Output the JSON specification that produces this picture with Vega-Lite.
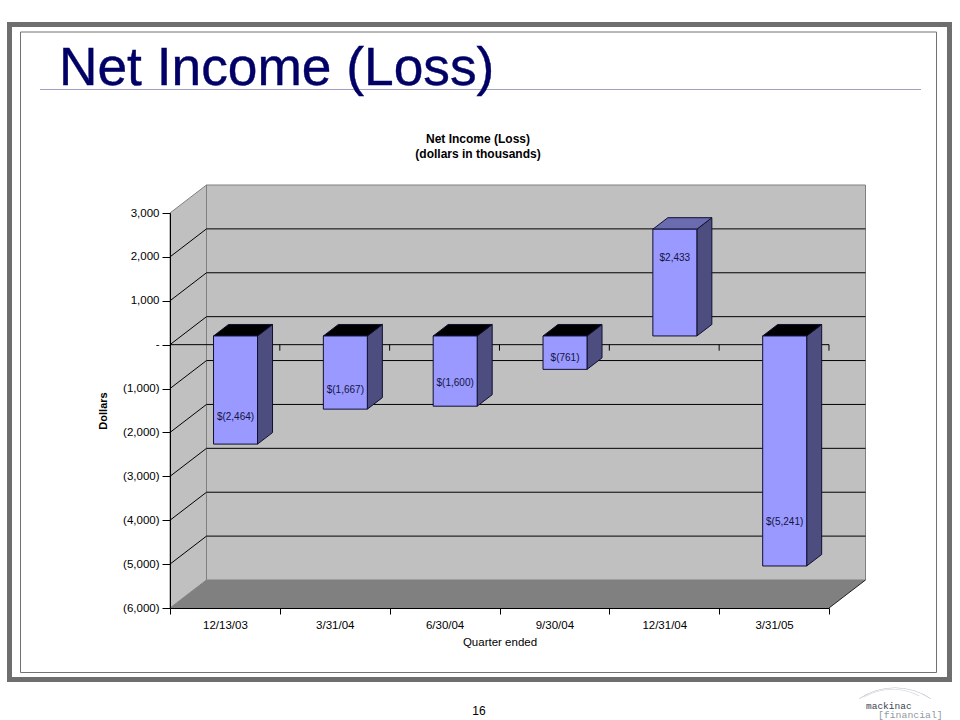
{"$schema":"https://vega.github.io/schema/vega-lite/v6.json","width":659,"height":395,"autosize":{"type":"none"},"padding":{"left":170,"top":213,"right":131,"bottom":112},"background":"white","config":{"view":{"stroke":null},"font":"Liberation Sans"},
"datasets":{"bars":[
{"period":1,"quarter":"12/13/03","income":-2464,"label":"$(2,464)","labelAt":-1823},
{"period":2,"quarter":"3/31/04","income":-1667,"label":"$(1,667)","labelAt":-1208},
{"period":3,"quarter":"6/30/04","income":-1600,"label":"$(1,600)","labelAt":-1048},
{"period":4,"quarter":"9/30/04","income":-761,"label":"$(761)","labelAt":-478},
{"period":5,"quarter":"12/31/04","income":2433,"label":"$2,433","labelAt":1800},
{"period":6,"quarter":"3/31/05","income":-5241,"label":"$(5,241)","labelAt":-4215}],
"grid":[{"tick":2000},{"tick":1000},{"tick":0},{"tick":-1000},{"tick":-2000},{"tick":-3000},{"tick":-4000},{"tick":-5000}],
"depth":[{"d":0},{"d":1}],"one":[{"n":1}]},
"data":{"name":"bars"},
"layer":[
{"data":{"name":"one"},"mark":{"type":"rect","fill":"transparent","stroke":"#6e6e6e","strokeWidth":5},"encoding":{"x":{"datum":-0.9613,"type":"quantitative"},"x2":{"datum":7.597},"y":{"datum":7295,"type":"quantitative"},"y2":{"datum":-7629}}},
{"data":{"name":"one"},"mark":{"type":"rect","fill":"transparent","stroke":"#707070","strokeWidth":1},"encoding":{"x":{"datum":-0.861,"type":"quantitative"},"x2":{"datum":7.479},"y":{"datum":7124,"type":"quantitative"},"y2":{"datum":-7470}}},
{"data":{"name":"one"},"mark":{"type":"rule","stroke":"#a0a0c4","strokeWidth":1},"encoding":{"x":{"datum":-0.6836,"type":"quantitative"},"x2":{"datum":7.3377},"y":{"datum":5814,"type":"quantitative"}}},
{"data":{"name":"one"},"mark":{"type":"text","text":"Net Income (Loss)","fontSize":53.3,"color":"#000066","stroke":"#000066","strokeWidth":0.4,"align":"left","baseline":"alphabetic"},"encoding":{"x":{"datum":-0.511,"type":"quantitative"},"y":{"datum":5917,"type":"quantitative"}}},
{"data":{"name":"one"},"mark":{"type":"text","text":["Net Income (Loss)","(dollars in thousands)"],"lineHeight":15,"fontSize":12,"fontWeight":"bold","color":"black","align":"center","baseline":"middle"},"encoding":{"x":{"datum":3.304,"type":"quantitative"},"y":{"datum":4675,"type":"quantitative"}}},
{"data":{"name":"one"},"mark":{"type":"text","text":"16","fontSize":12,"color":"black","align":"center","baseline":"middle"},"encoding":{"x":{"datum":3.313,"type":"quantitative"},"y":{"datum":-8347,"type":"quantitative"}}},
{"data":{"name":"one"},"mark":{"type":"arc","fill":"#b5bcc4","radius":63.5,"radius2":63,"theta":-0.6,"theta2":0.6},"encoding":{"x":{"datum":7.101,"type":"quantitative"},"y":{"datum":-9258,"type":"quantitative"}}},
{"data":{"name":"one"},"mark":{"type":"arc","fill":"#c8cdd3","radius":56,"radius2":55.5,"theta":-0.55,"theta2":0.5},"encoding":{"x":{"datum":7.08,"type":"quantitative"},"y":{"datum":-9120,"type":"quantitative"}}},
{"data":{"name":"one"},"mark":{"type":"text","text":"mackinac","font":"Liberation Mono","fontSize":9.5,"color":"#3a4450","align":"left","baseline":"middle"},"encoding":{"x":{"datum":6.837,"type":"quantitative"},"y":{"datum":-8222,"type":"quantitative"}}},
{"data":{"name":"one"},"mark":{"type":"text","text":"[financial]","font":"Liberation Mono","fontSize":9.8,"color":"#8f9aa6","align":"left","baseline":"middle"},"encoding":{"x":{"datum":6.946,"type":"quantitative"},"y":{"datum":-8438,"type":"quantitative"}}},
{"data":{"name":"one"},"mark":{"type":"rect","fill":"#c0c0c0","stroke":"#808080","strokeWidth":1,"xOffset":36.5,"x2Offset":36.5,"yOffset":-28,"y2Offset":-28},"encoding":{
"x":{"datum":0.5,"type":"quantitative","scale":{"domain":[0.5,6.5],"nice":false,"zero":false},"axis":{"zindex":1,"title":"Quarter ended","titleFont":"Liberation Sans","titleFontSize":11.5,"titleFontWeight":"normal","titleColor":"black","titlePadding":6,"values":[0.5,1,1.5,2,2.5,3,3.5,4,4.5,5,5.5,6,6.5],"grid":false,"domainColor":"black","tickColor":"black","tickSize":6,"tickOpacity":{"condition":{"test":"datum.value%1==0","value":0},"value":1},"labelExpr":"datum.value%1==0 ? ['12/13/03','3/31/04','6/30/04','9/30/04','12/31/04','3/31/05'][datum.value-1] : ''","labelFont":"Liberation Sans","labelFontSize":11.5,"labelColor":"black","labelAngle":0,"labelOverlap":false,"labelBound":false,"labelFlush":false,"labelPadding":5}},
"x2":{"datum":6.5},
"y":{"datum":3000,"type":"quantitative","scale":{"domain":[-6000,3000],"nice":false,"zero":false},"axis":{"zindex":1,"title":"Dollars","titleFont":"Liberation Sans","titleFontSize":11,"titleFontWeight":"bold","titleColor":"black","titlePadding":14,"values":[-6000,-5000,-4000,-3000,-2000,-1000,0,1000,2000,3000],"grid":false,"domainColor":"black","tickColor":"black","tickSize":8,"labelExpr":"datum.value==0 ? '-' : (datum.value<0 ? '('+format(-datum.value,',')+')' : format(datum.value,','))","labelFont":"Liberation Sans","labelFontSize":11.5,"labelColor":"black","labelPadding":3,"labelOverlap":false,"labelBound":false,"labelFlush":false}},
"y2":{"datum":-6000}}},
{"data":{"name":"depth"},"transform":[{"calculate":"0.5+0.3323*datum.d","as":"wx"},{"calculate":"3000+638*datum.d","as":"wt"},{"calculate":"-6000+638*datum.d","as":"wb"}],"mark":{"type":"area","fill":"#c0c0c0","stroke":"#808080","strokeWidth":1},"encoding":{"x":{"field":"wx","type":"quantitative"},"y":{"field":"wt","type":"quantitative"},"y2":{"field":"wb"}}},
{"data":{"name":"depth"},"transform":[{"calculate":"0.5+0.3323*datum.d","as":"fl"},{"calculate":"6.5+0.3323*datum.d","as":"fr"},{"calculate":"-6000+638*datum.d","as":"fy"}],"mark":{"type":"area","orient":"horizontal","fill":"#808080"},"encoding":{"x":{"field":"fl","type":"quantitative"},"x2":{"field":"fr"},"y":{"field":"fy","type":"quantitative"}}},
{"data":{"name":"one"},"mark":{"type":"rule","stroke":"#202020","strokeWidth":1,"x2Offset":36.5,"y2Offset":-28},"encoding":{"x":{"datum":6.5,"type":"quantitative"},"x2":{"datum":6.5},"y":{"datum":-6000,"type":"quantitative"},"y2":{"datum":-6000}}},
{"data":{"name":"grid"},"mark":{"type":"rule","stroke":"black","strokeWidth":1,"xOffset":36.5,"x2Offset":36.5,"yOffset":-28,"y2Offset":-28},"encoding":{"x":{"datum":0.5,"type":"quantitative"},"x2":{"datum":6.5},"y":{"field":"tick","type":"quantitative"},"y2":{"field":"tick"}}},
{"data":{"name":"grid"},"mark":{"type":"rule","stroke":"black","strokeWidth":1,"x2Offset":36.5,"y2Offset":-28},"encoding":{"x":{"datum":0.5,"type":"quantitative"},"x2":{"datum":0.5},"y":{"field":"tick","type":"quantitative"},"y2":{"field":"tick"}}},
{"data":{"name":"one"},"mark":{"type":"rule","stroke":"black","strokeWidth":1},"encoding":{"x":{"datum":0.5,"type":"quantitative"},"x2":{"datum":6.5},"y":{"datum":0,"type":"quantitative"}}},
{"mark":{"type":"rule","stroke":"black","strokeWidth":1,"xOffset":54.9,"x2Offset":54.9,"y2Offset":6},"encoding":{"x":{"field":"period","type":"quantitative"},"x2":{"field":"period"},"y":{"datum":0,"type":"quantitative"},"y2":{"datum":0}}},
{"transform":[{"calculate":"[0,1]","as":"d"},{"flatten":["d"]},{"calculate":"datum.period+0.2968+0.1366*datum.d","as":"sx"},{"calculate":"datum.income+198+262*datum.d","as":"sa"},{"calculate":"198+262*datum.d","as":"sb"}],"mark":{"type":"area","fill":"#4d4d80","stroke":"#101030","strokeWidth":1},"encoding":{"x":{"field":"sx","type":"quantitative"},"y":{"field":"sa","type":"quantitative"},"y2":{"field":"sb"},"detail":{"field":"quarter"}}},
{"transform":[{"calculate":"[0,1]","as":"d"},{"flatten":["d"]},{"calculate":"datum.period-0.1038+0.1366*datum.d","as":"tl"},{"calculate":"datum.period+0.2968+0.1366*datum.d","as":"tr"},{"calculate":"max(datum.income,0)+198+262*datum.d","as":"ty"}],"mark":{"type":"area","orient":"horizontal","stroke":"#101030","strokeWidth":1},"encoding":{"x":{"field":"tl","type":"quantitative"},"x2":{"field":"tr"},"y":{"field":"ty","type":"quantitative"},"detail":{"field":"quarter"},"fill":{"condition":{"test":"datum.income<0","value":"#000000"},"value":"#6b6bb0"}}},
{"mark":{"type":"rect","fill":"#9999ff","stroke":"#101030","strokeWidth":1,"xOffset":-11.4,"x2Offset":32.6,"yOffset":-8.7,"y2Offset":-8.7},"encoding":{"x":{"field":"period","type":"quantitative"},"x2":{"field":"period"},"y":{"field":"income","type":"quantitative"},"y2":{"datum":0}}},
{"mark":{"type":"text","fontSize":10,"color":"#14143c","align":"center","baseline":"middle","xOffset":10.6,"yOffset":-7.7},"encoding":{"x":{"field":"period","type":"quantitative"},"y":{"field":"labelAt","type":"quantitative"},"text":{"field":"label"}}}
]}
